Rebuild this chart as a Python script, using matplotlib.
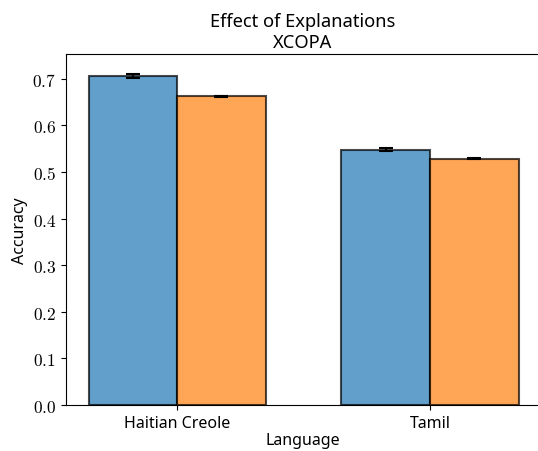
import matplotlib
matplotlib.use("Agg")
import matplotlib.pyplot as plt
import numpy as np

plt.rcParams['mathtext.fontset'] = 'cm'
plt.rcParams['font.family'] = 'Noto Sans'

languages = ["Haitian Creole", "Tamil"]
series_names = ["Without explanations", "With explanations"]
acc_a = [0.706, 0.548]
err_a = [0.005, 0.003]
acc_b = [0.662, 0.528]
err_b = [0.001, 0.001]
yticks = [0.0, 0.1, 0.2, 0.3, 0.4, 0.5, 0.6, 0.7]

fig = plt.figure(figsize=(5.38, 4.52), dpi=100)
ax = fig.add_axes([66/538, 46/452, (540-66)/538, (406-55)/452])

x = np.arange(len(languages))
w = 0.35
ax.bar(x - w/2, acc_a, w, yerr=err_a, capsize=5, color='#1f77b4', alpha=0.7,
       edgecolor='black', linewidth=1.5, label=series_names[0],
       error_kw=dict(ecolor='black', elinewidth=1.5, capthick=1.5))
ax.bar(x + w/2, acc_b, w, yerr=err_b, capsize=5, color='#ff7f0e', alpha=0.7,
       edgecolor='black', linewidth=1.5, label=series_names[1],
       error_kw=dict(ecolor='black', elinewidth=1.5, capthick=1.5))

ax.set_xticks(x)
ax.set_xticklabels(languages, fontsize=11.5)
ax.tick_params(axis='x', pad=4)
ax.set_yticks(yticks)
ax.set_yticklabels([f"${t:.1f}$" for t in yticks], fontsize=12.5)
ax.set_ylim(0, 0.753)
ax.set_xlim(-0.439, 1.435)
ax.set_xlabel("Language", fontsize=11.5, labelpad=0.5)
ax.set_ylabel("Accuracy", fontsize=11.5, labelpad=3)
ax.set_title("Effect of Explanations\nXCOPA", fontsize=13.2, linespacing=1.2, pad=5)

fig.savefig("out.png", dpi=100)
